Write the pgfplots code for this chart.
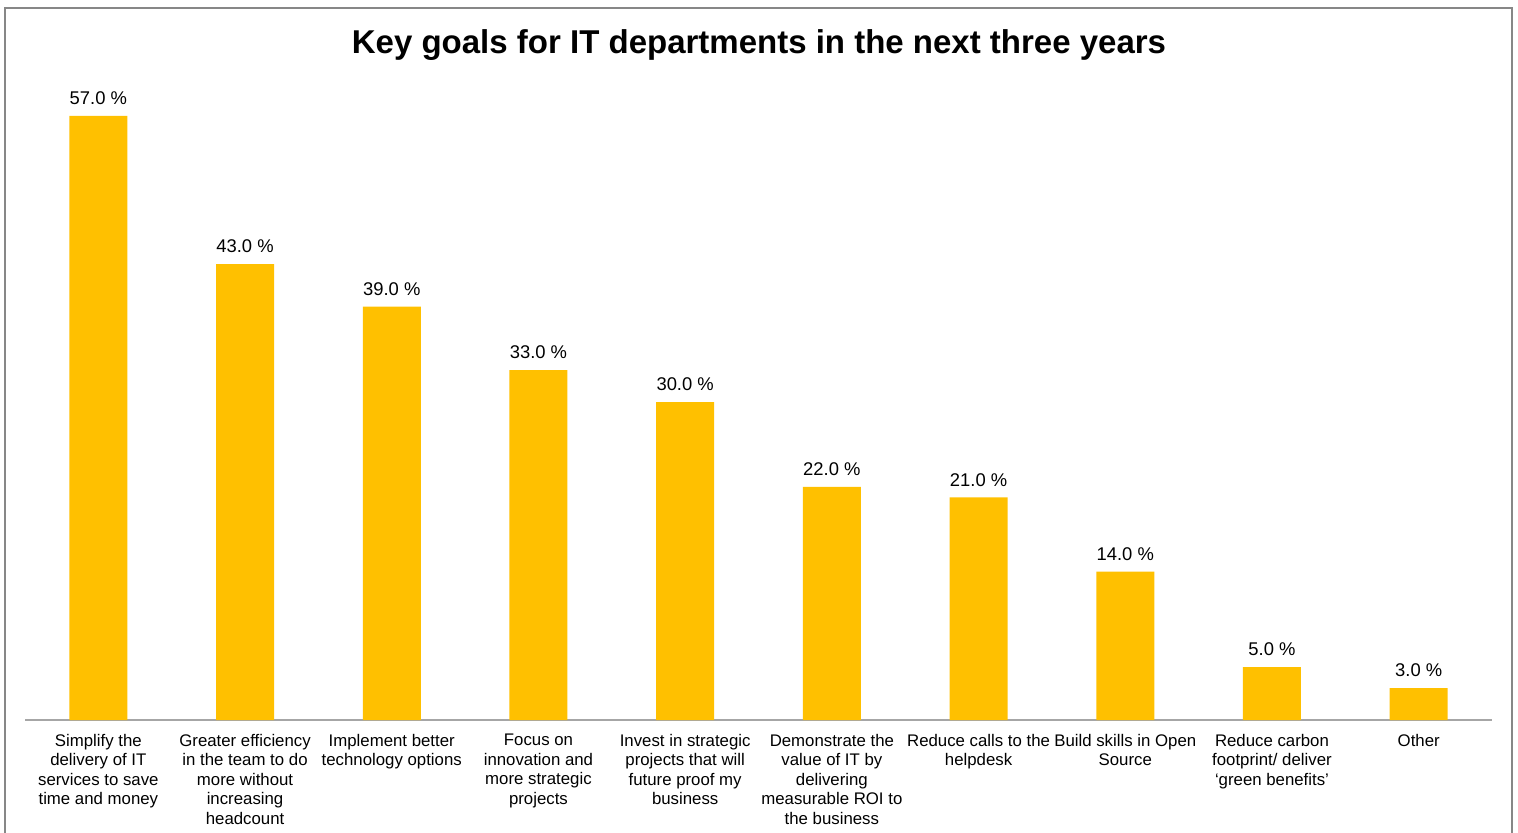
\documentclass[border=0pt]{standalone}
\usepackage{fontspec}
\setmainfont{Liberation Sans}
\usepackage{pgfplots}
\pgfplotsset{compat=1.18}
\definecolor{baryellow}{HTML}{FFC000}
\definecolor{framegray}{HTML}{878787}
\definecolor{axisgray}{HTML}{A6A6A6}
\begin{document}
\begin{tikzpicture}
\useasboundingbox (0pt,0pt) rectangle (759pt,416pt);
\draw[framegray, line width=1pt] (2.5pt,-10pt) -- (2.5pt,412pt) -- (756pt,412pt) -- (756pt,-10pt);
\node[font=\fontsize{16.5}{20}\selectfont\bfseries] at (379.5pt,393.5pt) {Key goals for IT departments in the next three years};
\begin{axis}[
  at={(12.5pt,56pt)}, anchor=south west,
  scale only axis, width=733.5pt, height=318pt,
  xmin=-0.5, xmax=9.5, ymin=0, ymax=60,
  axis x line=bottom, axis y line=none,
  x axis line style={-, draw=axisgray, line width=0.6pt},
  xtick=data, xtick style={draw=none},
  ytick=\empty,
  /pgf/number format/assume math mode=true,
  xticklabel style={align=center, font=\fontsize{8.4}{9.75}\selectfont, yshift=0.8pt},
  xticklabels={
    {Simplify the\\delivery of IT\\services to save\\time and money},
    {Greater efficiency\\in the team to do\\more without\\increasing\\headcount},
    {Implement better\\technology options},
    {Focus on\\innovation and\\more strategic\\projects},
    {Invest in strategic\\projects that will\\future proof my\\business},
    {Demonstrate the\\value of IT by\\delivering\\measurable ROI to\\the business},
    {Reduce calls to the\\helpdesk},
    {Build skills in Open\\Source},
    {Reduce carbon\\footprint/ deliver\\‘green benefits’},
    {Other}
  },
  ybar, bar width=29pt,
  nodes near coords={\pgfmathprintnumber[fixed,fixed zerofill,precision=1]{\pgfplotspointmeta}~\%},
  nodes near coords style={font=\fontsize{9.2}{11}\selectfont, text=black, yshift=2pt},
  clip=false,
]
\addplot[fill=baryellow, draw=none] coordinates {
  (0,57) (1,43) (2,39) (3,33) (4,30) (5,22) (6,21) (7,14) (8,5) (9,3)
};
\end{axis}
\end{tikzpicture}
\end{document}
